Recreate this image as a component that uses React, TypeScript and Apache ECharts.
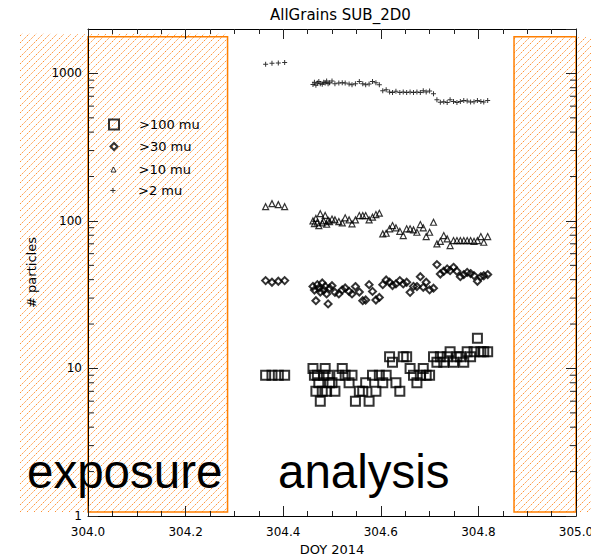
import React, { useEffect, useRef } from "react";
import * as echarts from "echarts";

// Day-of-year 2014 sample times
const doy = [
  304.364, 304.377, 304.390, 304.403,
  304.461, 304.464, 304.467, 304.470, 304.473, 304.476, 304.480, 304.483, 304.486, 304.489, 304.492, 304.495,
  304.500, 304.506, 304.514, 304.521, 304.527, 304.535, 304.541, 304.548, 304.556, 304.563,
  304.569, 304.576, 304.583, 304.590, 304.597, 304.604, 304.611, 304.618, 304.624, 304.631,
  304.639, 304.646, 304.653, 304.660, 304.667, 304.674, 304.681, 304.687, 304.693, 304.700,
  304.708, 304.715, 304.722, 304.729, 304.736, 304.742, 304.749, 304.756, 304.763, 304.770,
  304.777, 304.784, 304.791, 304.798, 304.805, 304.811, 304.819,
];

const gt100 = [
  9, 9, 9, 9,
  10, 9, 7, 9, 8, 6, 7, 9, 10, 7, 9, 8,
  8, 7, 9, 10, 9, 8, 9, 6, 7, 7,
  8, 6, 9, 7, 9, 8, 9, 12, 11, 8,
  7, 12, 12, 10, 9, 8, 9, 10, 9, 9,
  12, 11, 12, 11, 12, 13, 11, 12, 12, 11,
  13, 12, 13, 16, 13, 13, 13,
];

const gt30 = [
  39.4, 38.4, 39, 39.4,
  36, 34, 28.8, 37, 35, 33, 38, 34, 36, 32, 27.4, 35,
  36.4, 32.8, 32, 34.1, 35.1, 33.3, 32, 35.9, 33, 28.8,
  29.1, 37, 33.3, 29.1, 30.3, 37, 39.8, 38.4, 36.5, 37.4,
  39.4, 37.4, 38.4, 32.8, 36, 35.9, 41.9, 35.5, 38.4, 34.1,
  35, 50.6, 43.7, 45.6, 47.3, 46, 48.5, 45.6, 41.9, 43.3,
  44.8, 44, 42.6, 39, 41.9, 42.5, 43.3,
];

const gt10 = [
  125, 131, 129, 125,
  100, 96, 104, 98, 93, 112, 97, 100, 109, 95, 101, 99,
  103, 101.7, 99, 97, 105, 101.7, 95.6, 101.7, 108.8, 108.8,
  108.8, 101.7, 106, 110.5, 112.8, 81.7, 82.5, 88.4, 93, 89.8,
  85.1, 79.6, 88.4, 88.4, 87, 83.8, 94.5, 89.8, 78.4, 83.8,
  98, 69.9, 72.8, 79.6, 75.6, 68.1, 73.6, 73.6, 73.6, 73.6,
  73.6, 73.6, 72.8, 73.6, 78.4, 71.7, 78.4,
];

const gt2 = [
  1153, 1171, 1176, 1184,
  840, 870, 830, 860, 880, 850, 845, 870, 860, 890, 850, 865,
  888, 852, 861, 866, 861, 847, 839, 852, 880, 852,
  839, 847, 880, 866, 839, 764, 776, 748, 741, 756,
  741, 748, 741, 748, 741, 748, 741, 764, 748, 760,
  729, 664, 637, 643, 634, 664, 646, 634, 646, 654,
  649, 639, 643, 654, 646, 639, 654,
];

const seriesNames = [">100 mu", ">30 mu", ">10 mu", ">2 mu"];
const xRange = [304.0, 305.0];
const yRange = [1, 2000];
const exposureWindow = [304.0, 304.286];
const exposureWindow2 = [304.873, 305.0];
const windowTop = 1770;
const bigLabels = ["exposure", "analysis"];
const titleText = "AllGrains SUB_2D0";
const xName = "DOY 2014";
const yName = "# particles";

const FONT = "DejaVu Sans";
const PLUS = "path://M2,0H3V2H5V3H3V5H2V3H0V2H2Z";

export default function App() {
  const ref = useRef<HTMLDivElement>(null);

  useEffect(() => {
    const chart = echarts.init(ref.current!, null, { renderer: "svg" });

    const pairs = (vals: number[]) => doy.map((t, i) => [t, vals[i]]);
    const axisLineStyle = { lineStyle: { color: "#000", width: 1 } };

    const xBase = {
      type: "value",
      min: xRange[0],
      max: xRange[1],
      interval: 0.2,
      z: 10,
      axisLine: { show: true, onZero: false, ...axisLineStyle },
      axisTick: { show: true, inside: true, length: 10, lineStyle: { color: "#222" } },
      minorTick: { show: true, splitNumber: 4, length: 5, lineStyle: { color: "#222" } },
      splitLine: { show: false },
      minorSplitLine: { show: false },
    };
    const yBase = {
      type: "log",
      logBase: 10,
      min: yRange[0],
      max: yRange[1],
      z: 10,
      axisLine: { show: true, onZero: false, ...axisLineStyle },
      axisTick: { show: true, inside: true, length: 10, lineStyle: { color: "#222" } },
      splitLine: { show: false },
    };

    const sizes = [10, 7, 5, 5];
    const borders = [2, 2, 1, 0];
    const rowY = [126, 148, 171, 192];

    const option: any = {
      animation: false,
      backgroundColor: "#fff",
      title: {
        text: titleText,
        left: 270,
        top: 7,
        padding: 0,
        textStyle: { fontFamily: FONT, fontSize: 15, fontWeight: "normal", color: "#000" },
      },
      grid: {
        left: 88,
        right: 15,
        top: 29,
        bottom: 41,
        containLabel: false,
        outerBoundsMode: "none",
      },
      legend: seriesNames.map((n, i) => ({
        data: [n],
        orient: "vertical",
        left: 113 - sizes[i] / 2,
        top: rowY[i] - 8,
        padding: 0,
        itemWidth: sizes[i],
        itemHeight: sizes[i],
        selectedMode: false,
        itemStyle: { borderWidth: borders[i] },
        textStyle: {
          fontFamily: FONT,
          fontSize: 13,
          color: "#000",
          padding: [0, 0, 0, 20 - sizes[i] / 2],
        },
      })),
      xAxis: [
        {
          ...xBase,
          position: "bottom",
          name: xName,
          nameLocation: "middle",
          nameGap: 27,
          nameTextStyle: { fontFamily: FONT, fontSize: 13, color: "#000" },
          axisLabel: {
            show: true,
            margin: 10,
            fontFamily: FONT,
            fontSize: 12,
            color: "#000",
            formatter: (v: number) => v.toFixed(1),
          },
        },
        { ...xBase, position: "top", axisLabel: { show: false } },
      ],
      yAxis: [
        {
          ...yBase,
          position: "left",
          name: yName,
          nameLocation: "middle",
          nameGap: 50,
          nameTextStyle: { fontFamily: FONT, fontSize: 13, color: "#000" },
          axisLabel: {
            show: true,
            margin: 6,
            fontFamily: FONT,
            fontSize: 12,
            color: "#000",
            showMaxLabel: false,
            formatter: (v: number) => {
              const l = Math.log10(v);
              return Math.abs(l - Math.round(l)) < 1e-6 ? String(Math.round(v)) : "";
            },
          },
        },
        { ...yBase, position: "right", axisLabel: { show: false } },
      ],
      series: [
        {
          type: "scatter",
          name: seriesNames[0],
          data: pairs(gt100),
          symbol: "rect",
          symbolSize: 9,
          itemStyle: { color: "rgba(255,255,255,0)", borderColor: "#000", borderWidth: 2 },
          z: 3,
          silent: true,
        },
        {
          type: "scatter",
          name: seriesNames[1],
          data: pairs(gt30),
          symbol: "diamond",
          symbolSize: 7,
          itemStyle: { color: "rgba(255,255,255,0)", borderColor: "#000", borderWidth: 2 },
          z: 3,
          silent: true,
        },
        {
          type: "scatter",
          name: seriesNames[2],
          data: pairs(gt10),
          symbol: "triangle",
          symbolSize: 6,
          itemStyle: { color: "rgba(255,255,255,0)", borderColor: "#000", borderWidth: 1.2 },
          z: 3,
          silent: true,
        },
        {
          type: "scatter",
          name: seriesNames[3],
          data: pairs(gt2),
          symbol: PLUS,
          symbolSize: 5,
          itemStyle: { color: "#000", borderWidth: 0 },
          z: 3,
          silent: true,
        },
      ],
    };

    chart.setOption(option);

    const px = (x: number) => chart.convertToPixel({ xAxisIndex: 0 }, x) as number;
    const py = (y: number) => chart.convertToPixel({ yAxisIndex: 0 }, y) as number;

    const elements: any[] = [];
    const orange = "#ff7f00";
    const step = 7;
    const hatch = (x0: number, x1: number, y0: number, y1: number) => {
      const cStart = Math.ceil((x0 + y0) / step) * step;
      for (let c = cStart; c <= x1 + y1; c += step) {
        const xa = Math.max(x0, c - y1);
        const xb = Math.min(x1, c - y0);
        if (xb - xa < 0.5) continue;
        elements.push({
          type: "line",
          silent: true,
          z: 1,
          shape: { x1: xa, y1: c - xa, x2: xb, y2: c - xb },
          style: { stroke: "#ff9030", lineWidth: 1, lineDash: [1.5, 1] },
        });
      }
    };
    const yTop = py(windowTop);
    const yBot = py(yRange[0]);
    const lx0 = px(exposureWindow[0]);
    const lx1 = px(exposureWindow[1]);
    const rx0 = px(exposureWindow2[0]);
    const rx1 = px(exposureWindow2[1]);
    hatch(lx0 - 68, lx1, yTop - 3, yBot - 4);
    hatch(rx0, rx1 + 16, yTop, yBot - 4);
    [[lx0, lx1], [rx0, rx1]].forEach(([a, b]) => {
      elements.push({
        type: "rect",
        silent: true,
        z: 2,
        shape: { x: a, y: yTop, width: b - a, height: yBot - 4 - yTop },
        style: { fill: "none", stroke: orange, lineWidth: 1.5 },
      });
    });

    // log minor ticks on left and right y axes
    const xl = px(xRange[0]);
    const xr = px(xRange[1]);
    for (let k = 0; k < 4; k++) {
      for (let m = 2; m <= 9; m++) {
        const v = m * Math.pow(10, k);
        if (v >= yRange[1]) continue;
        const y = py(v);
        elements.push({
          type: "line",
          silent: true,
          z: 11,
          shape: { x1: xl, y1: y, x2: xl + 6, y2: y },
          style: { stroke: "#222", lineWidth: 1 },
        });
        elements.push({
          type: "line",
          silent: true,
          z: 11,
          shape: { x1: xr - 6, y1: y, x2: xr, y2: y },
          style: { stroke: "#222", lineWidth: 1 },
        });
      }
    }

    const bigPos = [27, 278];
    bigLabels.forEach((t, i) => {
      elements.push({
        type: "text",
        silent: true,
        z: 5,
        style: {
          text: t,
          x: bigPos[i],
          y: 471,
          fontFamily: "Liberation Sans",
          fontSize: 47.5,
          fill: "#000",
          align: "left",
          verticalAlign: "middle",
          textAlign: "left",
          textVerticalAlign: "middle",
        },
      });
    });

    chart.setOption({ graphic: elements });

    return () => chart.dispose();
  }, []);

  return (
    <div
      ref={ref}
      style={{ position: "fixed", left: 0, top: 0, width: 591, height: 557 }}
    />
  );
}
